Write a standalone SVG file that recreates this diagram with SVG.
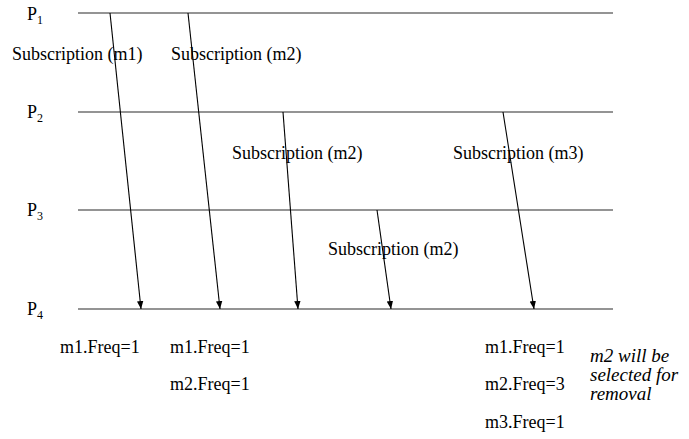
<svg xmlns="http://www.w3.org/2000/svg" width="689" height="439" viewBox="0 0 689 439">
<style>
.t{font-size:18px}
.s{font-size:12px}
.i{font-size:19px;font-style:italic}
.tl{stroke:#707070;stroke-width:1.6;fill:none}
.msg{stroke:#000;stroke-width:1.1;fill:none;marker-end:url(#ah)}
</style>
<defs>
<marker id="ah" viewBox="0 0 10 10" refX="10" refY="5" markerWidth="8" markerHeight="8" markerUnits="userSpaceOnUse" orient="auto">
<path d="M0,1 L10,5 L0,9 Z" fill="#000"/>
</marker>
</defs>
<g font-family="Liberation Serif, Times New Roman, serif" fill="#000">
<g id="p1"><line class="tl" x1="78" y1="13" x2="613" y2="13"/><text class="t" x="27" y="20">P<tspan class="s" dy="4">1</tspan></text></g>
<g id="p2"><line class="tl" x1="78" y1="112" x2="613" y2="112"/><text class="t" x="27" y="118">P<tspan class="s" dy="4">2</tspan></text></g>
<g id="p3"><line class="tl" x1="78" y1="210" x2="613" y2="210"/><text class="t" x="27" y="216">P<tspan class="s" dy="4">3</tspan></text></g>
<g id="p4"><line class="tl" x1="78" y1="309" x2="613" y2="309"/><text class="t" x="27" y="315">P<tspan class="s" dy="4">4</tspan></text></g>
<g id="connectors">
<line class="msg" x1="110" y1="13" x2="141" y2="309"/>
<line class="msg" x1="188" y1="13" x2="220" y2="309"/>
<line class="msg" x1="283" y1="112" x2="298" y2="309"/>
<line class="msg" x1="377" y1="210" x2="391" y2="309"/>
<line class="msg" x1="503" y1="112" x2="534" y2="309"/>
</g>
<g id="labels">
<text class="t" x="12" y="60">Subscription (m1)</text>
<text class="t" x="171" y="60">Subscription (m2)</text>
<text class="t" x="232" y="159">Subscription (m2)</text>
<text class="t" x="453" y="159">Subscription (m3)</text>
<text class="t" x="328" y="255">Subscription (m2)</text>
</g>
<g id="freq">
<text class="t" x="60" y="353">m1.Freq=1</text>
<text class="t" x="170" y="353">m1.Freq=1</text>
<text class="t" x="170" y="390">m2.Freq=1</text>
<text class="t" x="485" y="353">m1.Freq=1</text>
<text class="t" x="485" y="390">m2.Freq=3</text>
<text class="t" x="485" y="428">m3.Freq=1</text>
</g>
<g id="note">
<text class="i" x="590" y="362">m2 will be</text>
<text class="i" x="590" y="381">selected for</text>
<text class="i" x="590" y="400">removal</text>
</g>
</g>
</svg>
